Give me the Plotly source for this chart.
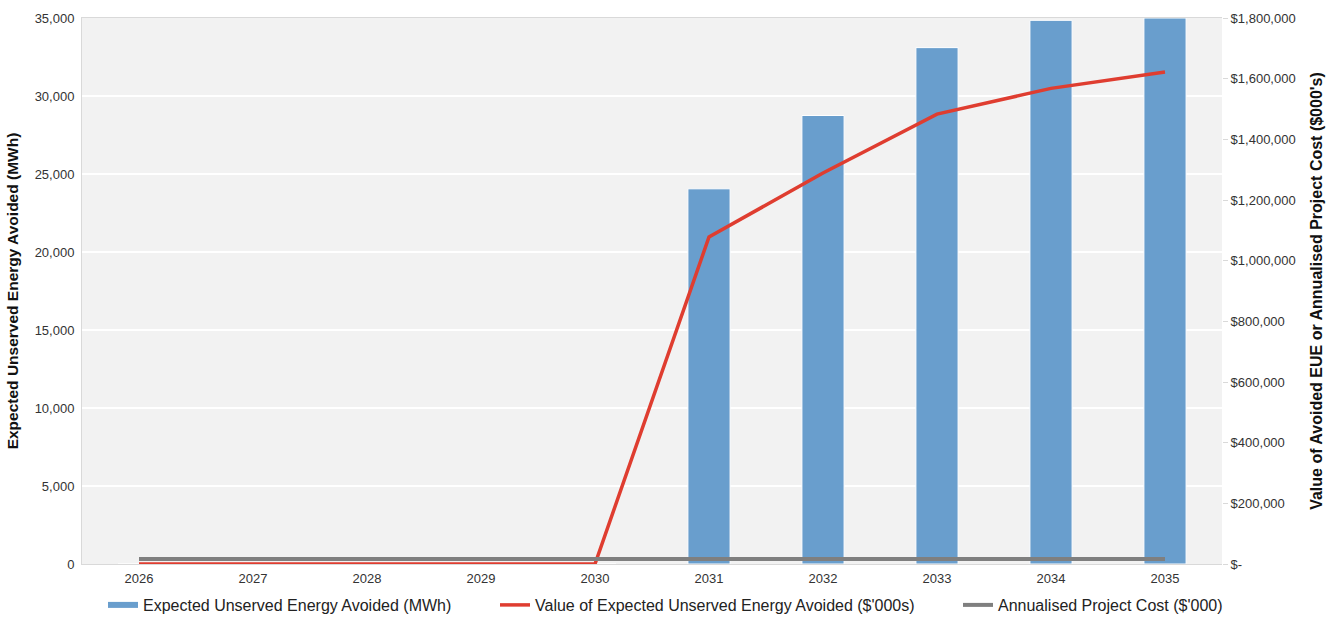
import plotly.graph_objects as go

years = ["2026", "2027", "2028", "2029", "2030", "2031", "2032", "2033", "2034", "2035"]
eue_mwh = [0, 0, 0, 0, 0, 24050, 28750, 33100, 34850, 35000]
eue_value = [0, 0, 0, 0, 0, 1078000, 1289000, 1483000, 1568000, 1622000]
project_cost = [16500] * 10

left_ticks = [0, 5000, 10000, 15000, 20000, 25000, 30000, 35000]
right_ticks = [0, 200000, 400000, 600000, 800000, 1000000, 1200000, 1400000, 1600000, 1800000]
right_labels = ["$-"] + ["${:,}".format(v) for v in right_ticks[1:]]

font_family = "Liberation Sans, Arial, sans-serif"
bar_color = "#699ecd"

fig = go.Figure()
fig.add_trace(go.Bar(
    x=years, y=eue_mwh, name="Expected Unserved Energy Avoided (MWh)",
    marker=dict(color=bar_color, line=dict(color="white", width=1)),
    yaxis="y", showlegend=False, legendgroup="eue",
))
# Legend key for the bars, drawn as a short thick band
fig.add_trace(go.Scatter(
    x=[None], y=[None], name="Expected Unserved Energy Avoided (MWh)",
    mode="lines", line=dict(color=bar_color, width=6), legend="legend", legendgroup="eue",
))
fig.add_trace(go.Scatter(
    x=years, y=eue_value, name="Value of Expected Unserved Energy Avoided ($'000s)",
    mode="lines", line=dict(color="#df3d30", width=3.5), yaxis="y2", legend="legend2",
))
fig.add_trace(go.Scatter(
    x=years, y=project_cost, name="Annualised Project Cost ($'000)",
    mode="lines", line=dict(color="#7f7f7f", width=4), yaxis="y2", legend="legend3",
))

plot_left, plot_width, plot_height = 82, 1140, 546


def legend_at(px_x):
    return dict(x=(px_x - plot_left) / plot_width, xanchor="left",
                y=-41 / plot_height, yanchor="middle", orientation="h",
                font=dict(size=16, color="#222"), bgcolor="rgba(0,0,0,0)",
                itemwidth=30, tracegroupgap=0)


fig.update_layout(
    width=1339, height=617,
    margin=dict(l=82, r=117, t=18, b=53, autoexpand=False),
    paper_bgcolor="white", plot_bgcolor="#f2f2f2",
    font=dict(family=font_family, size=13, color="#404040"),
    bargap=0.63,
    showlegend=True,
    legend=legend_at(103),
    legend2=legend_at(495),
    legend3=legend_at(958),
    xaxis=dict(type="category", showgrid=False, ticks="", tickfont=dict(size=13, color="#333"),
               showline=True, linecolor="#d9d9d9", linewidth=1, mirror=True, ticklabelstandoff=2),
    yaxis=dict(range=[0, 35000], tickvals=left_ticks, ticktext=["{:,}".format(v) for v in left_ticks],
               showgrid=True, gridcolor="white", gridwidth=1.5, zeroline=False,
               tickfont=dict(size=13, color="#333"), ticks="", ticklabelstandoff=4,
               title=dict(text="<b>Expected Unserved Energy Avoided (MWh)</b>",
                          font=dict(size=15.5, color="#111"), standoff=12),
               showline=True, linecolor="#d9d9d9", linewidth=1),
    yaxis2=dict(range=[0, 1800000], overlaying="y", side="right",
                tickvals=right_ticks, ticktext=right_labels, showgrid=False, zeroline=False,
                tickfont=dict(size=13, color="#333"), ticks="outside", ticklen=5, tickcolor="#d9d9d9",
                title=dict(text="<b>Value of Avoided EUE or Annualised Project Cost ($000's)</b>",
                           font=dict(size=16, color="#111"), standoff=16)),
)

fig.write_html("out.html")
